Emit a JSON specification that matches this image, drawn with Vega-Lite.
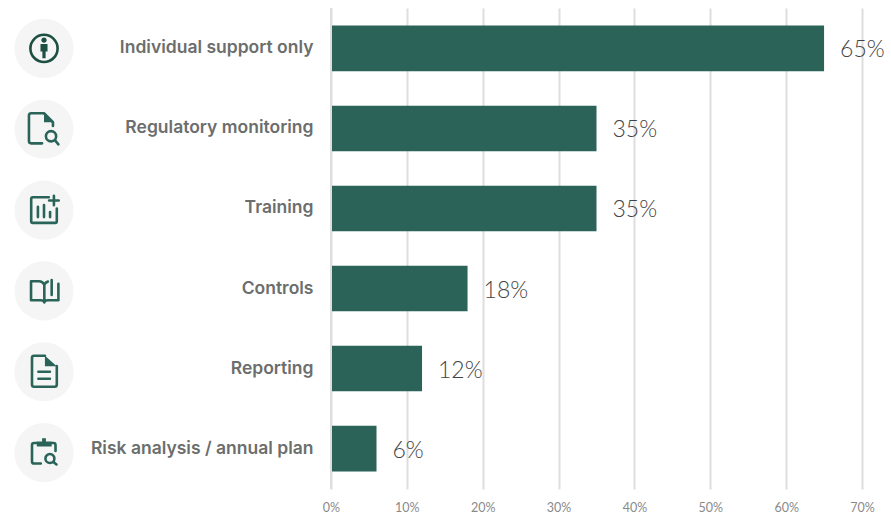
{
  "$schema": "https://vega.github.io/schema/vega-lite/v6.json",
  "background": "white",
  "padding": {"left": 0, "top": 7, "right": 0, "bottom": 0},
  "autosize": {"type": "pad"},
  "spacing": 0,
  "config": {"view": {"stroke": null}, "concat": {"spacing": 0}},
  "datasets": {
    "findings": [
      {"category": "Individual support only", "share": 0.65},
      {"category": "Regulatory monitoring", "share": 0.35},
      {"category": "Training", "share": 0.35},
      {"category": "Controls", "share": 0.18},
      {"category": "Reporting", "share": 0.12},
      {"category": "Risk analysis / annual plan", "share": 0.06}
    ]
  },
  "data": {"name": "findings"},
  "hconcat": [
    {
      "width": 88,
      "height": 485,
      "encoding": {
        "y": {
          "field": "category",
          "type": "nominal",
          "sort": null,
          "axis": null,
          "scale": {"paddingInner": 0.43, "paddingOuter": 0.216}
        }
      },
      "layer": [
        {
          "mark": {"type": "point", "filled": true, "size": 3500, "shape": "circle", "color": "#f4f5f4", "opacity": 1}
        },
        {
          "mark": {"type": "point", "filled": false, "size": 1024, "strokeWidth": 2.6, "strokeCap": "round", "strokeJoin": "round", "opacity": 1},
          "encoding": {
            "color": {
              "condition": {"test": "datum.category === 'Individual support only'", "value": "#1d4f43"},
              "value": "#2a6459"
            },
            "shape": {
              "field": "category",
              "type": "nominal",
              "legend": null,
              "scale": {
                "domain": ["Individual support only", "Regulatory monitoring", "Training", "Controls", "Reporting", "Risk analysis / annual plan"],
                "range": [
                  "M-.85 0A.85 .85 0 1 1 .85 0A.85 .85 0 1 1 -.85 0Z",
                  "M-.12 .88H-.8Q-.94 .88 -.94 .74V-.86Q-.94 -1 -.8 -1H0L.56 -.44V-.2M.12 .44a.32 .32 0 1 0 .64 0a.32 .32 0 1 0 -.64 0M.68 .68L.9 .94",
                  "M.3 -.8H-.7Q-.8 -.8 -.8 -.7V.7Q-.8 .8 -.7 .8H.7Q.8 .8 .8 .7V-.1M-.38 -.2V.44M0 -.32V.44M.38 .12V.44M.62 -.9V-.3M.32 -.6H.92",
                  "M.02 .58V-.4Q-.1 -.6 -.3 -.6H-.81V.58H-.2Q-.03 .58 .02 .72Q.07 .58 .24 .58H.9V-.45M.02 -.4Q.1 -.55 .24 -.58M.48 -.68V.25",
                  "M.06 -1H-.62Q-.75 -1 -.75 -.87V.8Q-.75 .94 -.62 .94H.66Q.8 .94 .8 .8V-.35M-.35 0H.37M-.35 .44H.37",
                  "M-.45 -.6H-.62Q-.75 -.6 -.75 -.47V.55Q-.75 .68 -.62 .68H-.2M.48 -.6H.6Q.72 -.6 .72 -.47V-.1M.09 .37a.28 .28 0 1 0 .56 0a.28 .28 0 1 0 -.56 0M.57 .57L.78 .74"
                ]
              }
            }
          }
        },
        {
          "mark": {"type": "point", "filled": true, "size": 1024, "opacity": 1},
          "encoding": {
            "color": {
              "condition": {"test": "datum.category === 'Individual support only'", "value": "#1d4f43"},
              "value": "#2a6459"
            },
            "shape": {
              "field": "category",
              "type": "nominal",
              "legend": null,
              "scale": {
                "domain": ["Individual support only", "Regulatory monitoring", "Training", "Controls", "Reporting", "Risk analysis / annual plan"],
                "range": [
                  "M.17 -.52a.17 .17 0 1 0 -.34 0a.17 .17 0 1 0 .34 0ZM-.22 -.27H.22V.2H.1V.62H-.1V.2H-.22Z",
                  "M0 -1L.56 -.44H0Z",
                  "M0 0Z",
                  "M0 0Z",
                  "M.06 -1L.8 -.35H.06Z",
                  "M-.45 -.38V-.7H-.12V-.9H.12V-.7H.48V-.38Z"
                ]
              }
            }
          }
        }
      ],
      "resolve": {"scale": {"shape": "independent"}}
    },
    {
      "width": 531,
      "height": 481,
      "encoding": {
        "y": {
          "field": "category",
          "type": "nominal",
          "sort": null,
          "title": null,
          "scale": {"paddingInner": 0.43, "paddingOuter": 0.22},
          "axis": {
            "domain": false,
            "ticks": false,
            "labelPadding": 18,
            "labelFont": "Inter",
            "labelFontWeight": 600,
            "labelFontSize": 17.5,
            "labelColor": "#6b6e6d",
            "labelLimit": 300,
            "minExtent": 243,
            "maxExtent": 243
          }
        },
        "x": {
          "field": "share",
          "type": "quantitative",
          "title": null,
          "scale": {"domain": [0, 0.7]},
          "axis": {
            "values": [0, 0.1, 0.2, 0.3, 0.4, 0.5, 0.6, 0.7],
            "format": ".0%",
            "domain": false,
            "ticks": false,
            "grid": true,
            "gridColor": "#dedede",
            "gridWidth": 2,
            "labelPadding": 12,
            "labelFont": "Lato",
            "labelFontSize": 12.5,
            "labelColor": "#8a8a8a",
            "labelFlush": false
          }
        }
      },
      "layer": [
        {"mark": {"type": "bar", "color": "#2b6358"}},
        {
          "mark": {"type": "rule", "color": "#dedede", "strokeWidth": 2},
          "encoding": {"x": {"datum": 0}, "y": null}
        },
        {
          "mark": {"type": "text", "align": "left", "baseline": "middle", "dx": 16, "dy": 2, "font": "Lato", "fontSize": 23, "fontWeight": 300, "color": "#444444", "clip": false},
          "encoding": {"text": {"field": "share", "type": "quantitative", "format": ".0%"}}
        }
      ]
    }
  ]
}
